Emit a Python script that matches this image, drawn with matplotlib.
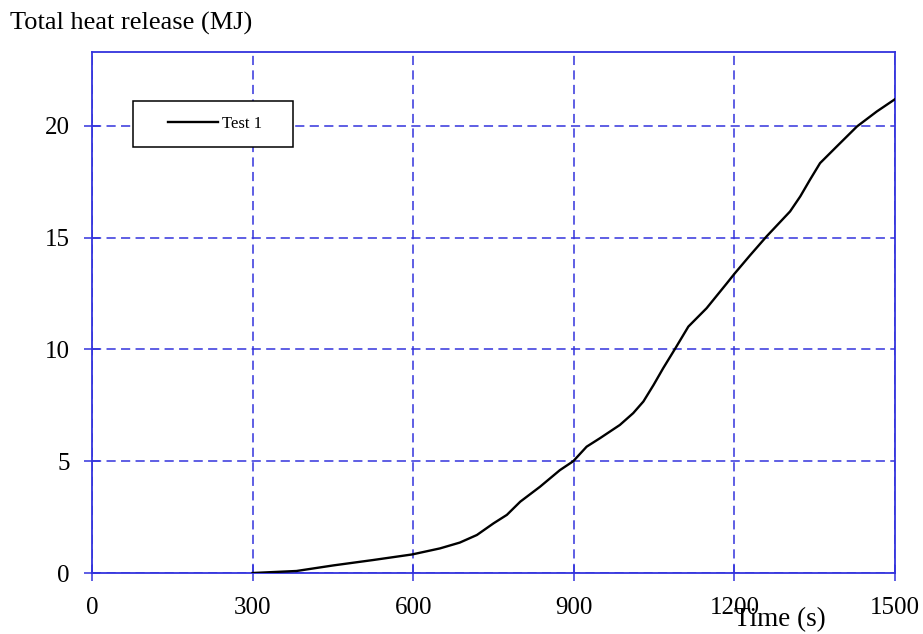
import matplotlib
matplotlib.use("Agg")
import matplotlib.pyplot as plt
from matplotlib.patches import Rectangle

# Data
time_s = [300, 382, 451, 525, 598, 650, 687, 719, 750, 775, 800, 837, 874, 899,
          924, 949, 986, 1011, 1030, 1049, 1067, 1089, 1114, 1148, 1186, 1200,
          1229, 1260, 1304, 1323, 1341, 1360, 1391, 1429, 1466, 1500]
heat_mj = [0.0, 0.09, 0.34, 0.58, 0.83, 1.10, 1.36, 1.70, 2.22, 2.60, 3.19, 3.86,
           4.60, 5.00, 5.65, 6.03, 6.62, 7.15, 7.67, 8.41, 9.16, 10.02, 11.02,
           11.84, 12.96, 13.38, 14.20, 15.05, 16.17, 16.84, 17.58, 18.33, 19.07,
           19.97, 20.64, 21.19]
x_ticks = [0, 300, 600, 900, 1200, 1500]
y_ticks = [0, 5, 10, 15, 20]
series_name = "Test 1"

plt.rcParams['font.family'] = ['Liberation Serif', 'DejaVu Serif']
blue = '#3333dd'

fig = plt.figure(figsize=(9.23, 6.34), dpi=100)
ax = fig.add_axes([92/923, 1-573/634, (895-92)/923, (573-52)/634])

ax.plot(time_s, heat_mj, color='black', lw=1.7, label=series_name, zorder=3,
        solid_joinstyle='round')

ax.set_xlim(0, 1500)
ax.set_ylim(0, 23.3)
ax.set_xticks(x_ticks)
ax.set_yticks(y_ticks)
ax.grid(True, color=blue, linestyle=(0, (6, 3.5)), lw=1.1)
for s in ax.spines.values():
    s.set_color(blue)
    s.set_linewidth(1.3)
ax.tick_params(direction='inout', length=12, width=1.1, color=blue,
               labelsize=18)
ax.tick_params(axis='x', pad=11)
ax.tick_params(axis='y', pad=10)

# legend box
ax.add_patch(Rectangle((0.051, 0.818), 0.199, 0.088, transform=ax.transAxes,
                       facecolor='white', edgecolor='black', lw=1.1, zorder=4))
ax.legend(loc='center', bbox_to_anchor=(0.153, 0.862), frameon=False,
          fontsize=12, handlelength=3.0, handletextpad=0.25).set_zorder(5)

fig.text(10/923, 1-23/634, "Total heat release (MJ)", fontsize=19,
         ha='left', va='center')
fig.text(780/923, 1-620/634, "Time (s)", fontsize=19.5, ha='center', va='center')

fig.savefig("out.png", dpi=100)
